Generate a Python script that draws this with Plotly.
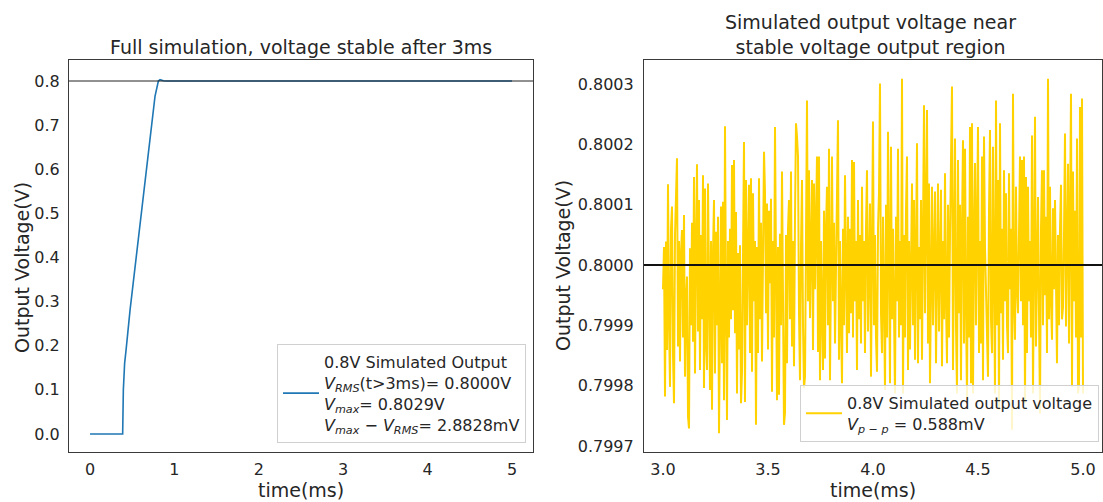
import numpy as np
import plotly.graph_objects as go

# ---------------- data ----------------
# Left panel: full simulation (time in ms, voltage in V)
t_full = [0, 0.387, 0.395, 0.41, 0.427, 0.45, 0.474, 0.55, 0.65, 0.75, 0.77, 0.81, 0.83, 0.87, 0.91, 1.5, 2.0, 3.0, 4.0, 5.0]
v_full = [0, 0, 0.10, 0.16, 0.19, 0.24, 0.28, 0.405, 0.57, 0.735, 0.765, 0.800, 0.8029, 0.8005, 0.8001, 0.8, 0.8, 0.8, 0.8, 0.8]

# Right panel: stable region, 421 samples from 3.0 ms to 5.0 ms
t_start, t_stop, n_samples = 3.0, 5.0, 421
v_nominal = 0.8
# deviation from 0.8 V in microvolts
dev_uV = [
    -40, 30, -218, 39, -141, 134, -90, -202, 60, 97, -150, -229, 50, 99, 177, -135, 40, -160, 20, 58,
    -120, 83, -185, -60, -19, -251, -271, 28, -100, 70, -127, 146, -180, 30, 167, -110, 108, -174, 50, -90,
    149, -204, 127, -130, -174, 135, -60, -207, 40, -240, 20, 108, -180, 55, -100, 80, -279, 10, 97, -163,
    105, -224, 230, -60, -257, 40, -120, 60, -90, 166, -75, 174, -113, 88, -213, 20, -140, 33, -229, -177,
    50, 204, -227, 141, -100, 60, 133, -146, 144, -177, 119, -60, 40, -265, 30, -146, 144, -90, 70, -160,
    50, 188,
    120, -80, 102, -140, 90, -30, 110, -210, 40, -120, 229, -60, -224, 30, -215, 52, -100, 155, -60, -265,
    -245, 50, -163, 60, 108, -90, 155, -135, 40, -168, 80, 235, 213, 180, -80, -191, 30, 141, -100, -204,
    -185, 60, 273, -60, 157, -88, 50, 141, -141, 135, -40, 60, 180, -144, 180, -191, 40, -80, -174, 90,
    -155, 60, 130, -100, 193, -191, 40, 180, -60, 70, -130, 30, 100, 240, -157, 40, -90, -196, 60, -100,
    149, -40, -146, 80, -113, 60, -80, 174, -120, 171, -60, 40, -174, 108, -90, 50, -130, 130, -60, 40,
    -146, 60, 157, -110, 30, 102, -185, 50, 238, -100,
    50, -120, -177, 60, 120, 301, -80, -146, 80, -60, -207, 100, -120, 221, -40, -196, 196, -90, 60, -150,
    -213, 80, -60, 193, -120, 40, -100, 309, -213, 50, -120, 90, 180, -174, 40, -140, 70, 135, -100, 108,
    -157, 50, 202, -163, 30, -90, 108, -157, 50, 265, -80, 100, 257, -130, 135, -196, 60, 130, -100, 40,
    122, -163, 50, 135, -110, 60, 125, -168, 40, -90, 152, -60, -163, 100, -120, 50, 140, 296, -174, 60,
    210, -100, -213, 174, -80, 100, -191, 60, 207, -130, 193, -60, -224, 80, -120, 229, -196, 235, -213, 50,
    169, -100, 80, 229, -146, 40, -130, 180, -191, 213,
    30, -60, -121, -185, 90, 224, -90, -146, 196, -60, -213, 273, -100, 141, -240, 235, -80, 60, -157, 157,
    -60, 119, -100, -146, 152, -40, 60, -273, 284, -60, -124, 130, -40, -80, 60, 180, -60, 174, -100, 180,
    -229, 146, -146, 130, -60, 40, -120, 215, -213, 80, 246, -135, 40, 113, -80, -246, 60, 157, -100, 157,
    -50, 80, -146, 309, -90, 130, -60, -124, 94, -40, 108, -60, -163, 50, -100, 60, 133, -90, -70, 50,
    218, -102, 40, 168, -130, 60, 284, -202, 155, -60, 90, -120, 210, -213, -199, 262, -120, 276, -213,
]

left_xticks = [0, 1, 2, 3, 4, 5]
left_yticks = [0.0, 0.1, 0.2, 0.3, 0.4, 0.5, 0.6, 0.7, 0.8]
right_xticks = [3.0, 3.5, 4.0, 4.5, 5.0]
right_yticks = [0.7997, 0.7998, 0.7999, 0.8000, 0.8001, 0.8002, 0.8003]

t_stable = np.linspace(t_start, t_stop, n_samples)
v_stable = v_nominal + np.array(dev_uV[:n_samples]) * 1e-6

# ---------------- figure ----------------
W, H = 1103, 502
FONT = "DejaVu Sans"
TXT = "#262626"

def px(x):
    return x / W

def py(y):
    return 1 - y / H

fig = go.Figure()

fig.add_trace(go.Scatter(
    x=t_full, y=v_full, mode="lines", xaxis="x", yaxis="y",
    line=dict(color="#1f77b4", width=1.6),
    name=("0.8V Simulated Output<br>"
          "<i>V<sub>RMS</sub></i>(t>3ms)= 0.8000V<br>"
          "<i>V<sub>max</sub></i>= 0.8029V<br>"
          "<i>V<sub>max</sub></i> − <i>V<sub>RMS</sub></i>= 2.8828mV"),
    legend="legend",
))

fig.add_trace(go.Scatter(
    x=t_stable, y=v_stable, mode="lines", xaxis="x2", yaxis="y2",
    line=dict(color="#FFD200", width=2.0),
    name="0.8V Simulated output voltage<br><i>V<sub>p − p</sub></i> = 0.588mV",
    legend="legend2",
))

axis_common = dict(
    showgrid=False, zeroline=False, showline=True, mirror=True,
    linecolor="#3a3a3a", linewidth=1.2, ticks="",
    tickfont=dict(family=FONT, size=16, color=TXT),
)

fig.update_layout(
    width=W, height=H,
    margin=dict(l=0, r=0, t=0, b=0, autoexpand=False),
    paper_bgcolor="white", plot_bgcolor="white",
    font=dict(family=FONT, color=TXT),
    xaxis=dict(domain=[px(69), px(533)], range=[-0.249, 5.249], tickvals=left_xticks,
               anchor="y", ticklabelstandoff=3, **axis_common),
    yaxis=dict(domain=[py(452), py(60)], range=[-0.0408, 0.8476], tickvals=left_yticks,
               tickformat=".1f", anchor="x", ticklabelstandoff=5, **axis_common),
    xaxis2=dict(domain=[px(644), px(1102)], range=[2.9095, 5.0905], tickvals=right_xticks,
                tickformat=".1f", anchor="y2", ticklabelstandoff=3, **axis_common),
    yaxis2=dict(domain=[py(452), py(60)], range=[0.79969, 0.80034], tickvals=right_yticks,
                tickformat=".4f", anchor="x2", ticklabelstandoff=6, **axis_common),
    legend=dict(
        x=px(526), y=py(443), xanchor="right", yanchor="bottom",
        bgcolor="rgba(255,255,255,0.8)", bordercolor="#d0d0d0", borderwidth=1,
        font=dict(family=FONT, size=16, color=TXT), itemwidth=36,
    ),
    legend2=dict(
        x=px(1099), y=py(442), xanchor="right", yanchor="bottom",
        bgcolor="rgba(255,255,255,0.8)", bordercolor="#d0d0d0", borderwidth=1,
        font=dict(family=FONT, size=16, color=TXT), itemwidth=36,
    ),
    showlegend=True,
)

# reference lines at 0.8 V
fig.add_shape(type="line", xref="x domain", yref="y", x0=0, x1=1, y0=v_nominal, y1=v_nominal,
              line=dict(color="#222222", width=1))
fig.add_shape(type="line", xref="x2 domain", yref="y2", x0=0, x1=1, y0=v_nominal, y1=v_nominal,
              line=dict(color="#111111", width=2))

# titles and axis labels
ann_font = dict(family=FONT, size=19, color=TXT)
fig.add_annotation(text="Full simulation, voltage stable after 3ms", xref="paper", yref="paper",
                   x=px(301), y=py(47), xanchor="center", yanchor="middle", showarrow=False, font=ann_font)
fig.add_annotation(text="Simulated output voltage near<br>stable voltage output region", xref="paper", yref="paper",
                   x=px(870), y=py(35), xanchor="center", yanchor="middle", showarrow=False, font=ann_font)
fig.add_annotation(text="time(ms)", xref="paper", yref="paper", x=px(301), y=py(490),
                   xanchor="center", yanchor="middle", showarrow=False, font=ann_font)
fig.add_annotation(text="time(ms)", xref="paper", yref="paper", x=px(873), y=py(490),
                   xanchor="center", yanchor="middle", showarrow=False, font=ann_font)
fig.add_annotation(text="Output Voltage(V)", xref="paper", yref="paper", x=px(22), y=py(268),
                   xanchor="center", yanchor="middle", showarrow=False, textangle=-90, font=ann_font)
fig.add_annotation(text="Output Voltage(V)", xref="paper", yref="paper", x=px(563), y=py(266),
                   xanchor="center", yanchor="middle", showarrow=False, textangle=-90, font=ann_font)

fig.write_html(
    "out.html",
    config={"displayModeBar": False},
    post_script="document.body.style.margin='0px';document.body.style.overflow='hidden';",
)
